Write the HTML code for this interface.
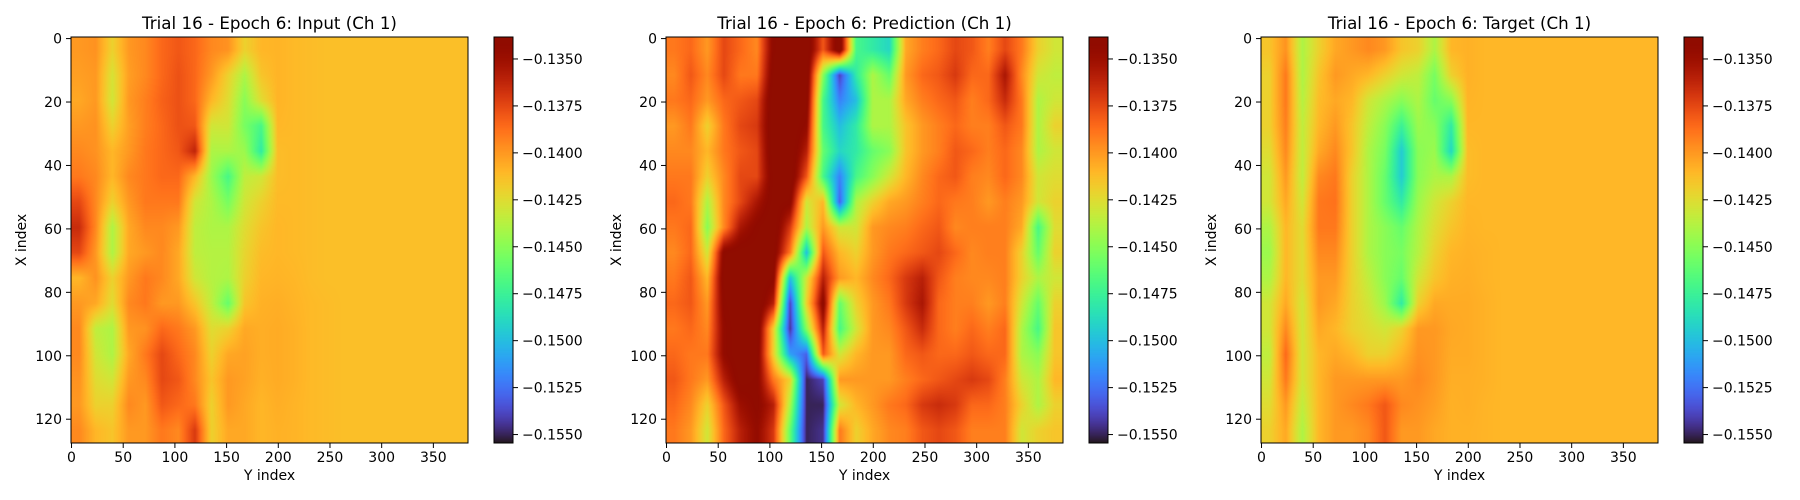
<!DOCTYPE html>
<html><head><meta charset="utf-8">
<style>
html,body{margin:0;padding:0;background:#fff;}
#root{position:relative;width:1800px;height:500px;overflow:hidden;font-family:"DejaVu Sans","Liberation Sans",sans-serif;}
canvas{position:absolute;}
svg{position:absolute;left:0;top:0;}
</style></head>
<body>
<div id="root">
<svg id="ov" width="1800" height="500"></svg>
</div>
<script>
// ---- data (values in units of -1e-4, e.g. 1412 => -0.1412) ----
const NROWS = 128, NCOLS = 384;
const vmin = -0.15545, vmax = -0.13383;
const xTicks = [0,50,100,150,200,250,300,350];
const yTicks = [0,20,40,60,80,100,120];
const cbTicks = [-0.1350,-0.1375,-0.1400,-0.1425,-0.1450,-0.1475,-0.1500,-0.1525,-0.1550];
const titles = ["Trial 16 - Epoch 6: Input (Ch 1)","Trial 16 - Epoch 6: Prediction (Ch 1)","Trial 16 - Epoch 6: Target (Ch 1)"];

const inputGrid = [
[1400,1398,1420,1400,1395,1385,1380,1385,1395,1398,1420,1410,1409,1411,1412,1413,1413,1413,1413,1413,1413,1413,1413,1413],
[1402,1400,1428,1402,1395,1385,1378,1385,1400,1420,1440,1415,1409,1411,1412,1413,1413,1413,1413,1413,1413,1413,1413,1413],
[1405,1400,1430,1400,1392,1383,1378,1385,1410,1425,1450,1425,1409,1411,1412,1413,1413,1413,1413,1413,1413,1413,1413,1413],
[1400,1398,1420,1402,1392,1385,1378,1380,1430,1430,1455,1470,1410,1411,1412,1413,1413,1413,1413,1413,1413,1413,1413,1413],
[1395,1398,1410,1400,1390,1385,1380,1362,1440,1440,1445,1480,1412,1411,1412,1413,1413,1413,1413,1413,1413,1413,1413,1413],
[1390,1395,1410,1395,1390,1385,1385,1410,1445,1470,1435,1430,1412,1411,1412,1413,1413,1413,1413,1413,1413,1413,1413,1413],
[1375,1395,1420,1400,1390,1390,1390,1430,1440,1455,1430,1420,1411,1411,1412,1413,1413,1413,1413,1413,1413,1413,1413,1413],
[1365,1395,1440,1405,1395,1395,1400,1435,1440,1440,1425,1415,1410,1411,1412,1413,1413,1413,1413,1413,1413,1413,1413,1413],
[1375,1400,1440,1405,1400,1395,1405,1435,1438,1438,1422,1412,1410,1411,1412,1413,1413,1413,1413,1413,1413,1413,1413,1413],
[1410,1398,1420,1400,1390,1395,1405,1430,1438,1440,1420,1410,1409,1410,1412,1413,1413,1413,1413,1413,1413,1413,1413,1413],
[1400,1405,1425,1395,1390,1400,1400,1415,1435,1460,1415,1408,1407,1409,1411,1412,1413,1413,1413,1413,1413,1413,1413,1413],
[1395,1435,1440,1400,1398,1385,1390,1400,1425,1420,1405,1407,1406,1408,1411,1412,1413,1413,1413,1413,1413,1413,1413,1413],
[1395,1430,1440,1405,1390,1375,1385,1395,1420,1405,1403,1407,1406,1408,1411,1412,1413,1413,1413,1413,1413,1413,1413,1413],
[1398,1425,1430,1400,1395,1375,1380,1395,1415,1400,1403,1408,1406,1408,1411,1412,1413,1413,1413,1413,1413,1413,1413,1413],
[1400,1420,1420,1395,1400,1380,1385,1390,1420,1400,1405,1410,1407,1409,1411,1412,1413,1413,1413,1413,1413,1413,1413,1413],
[1395,1410,1415,1400,1400,1390,1395,1370,1420,1405,1405,1410,1408,1409,1411,1412,1413,1413,1413,1413,1413,1413,1413,1413]
];
const predGrid = [
[1390,1385,1400,1375,1385,1395,1340,1330,1330,1380,1330,1470,1480,1490,1405,1392,1385,1375,1380,1392,1375,1390,1420,1430],
[1395,1380,1395,1375,1390,1390,1335,1330,1330,1450,1540,1480,1440,1460,1400,1385,1380,1370,1385,1385,1355,1395,1430,1435],
[1390,1385,1400,1385,1380,1375,1330,1330,1335,1470,1520,1500,1440,1440,1405,1392,1385,1380,1392,1385,1365,1390,1440,1430],
[1400,1390,1420,1390,1375,1370,1330,1330,1345,1470,1500,1480,1440,1440,1415,1400,1392,1385,1392,1392,1380,1390,1440,1420],
[1395,1395,1410,1390,1380,1375,1330,1330,1360,1460,1490,1480,1460,1450,1415,1400,1392,1380,1385,1392,1385,1395,1440,1430],
[1390,1390,1420,1395,1375,1375,1335,1330,1380,1470,1520,1470,1450,1430,1410,1395,1385,1380,1392,1395,1385,1395,1430,1425],
[1385,1390,1440,1395,1375,1355,1335,1340,1430,1410,1530,1440,1420,1405,1400,1392,1385,1390,1392,1400,1392,1400,1430,1420],
[1390,1385,1450,1395,1355,1340,1330,1370,1440,1400,1430,1430,1400,1395,1392,1385,1380,1395,1392,1392,1392,1405,1470,1425],
[1395,1385,1430,1340,1335,1335,1335,1390,1500,1380,1410,1420,1400,1390,1385,1380,1375,1385,1395,1392,1392,1420,1460,1420],
[1390,1380,1410,1335,1330,1330,1340,1500,1430,1360,1400,1410,1395,1385,1370,1360,1380,1392,1395,1395,1392,1420,1440,1430],
[1385,1380,1400,1340,1330,1330,1360,1540,1420,1340,1460,1420,1400,1390,1370,1355,1385,1392,1392,1400,1392,1430,1460,1420],
[1390,1385,1395,1345,1330,1330,1420,1545,1450,1360,1470,1430,1400,1395,1380,1365,1385,1392,1385,1392,1385,1440,1470,1415],
[1385,1390,1390,1345,1330,1335,1420,1510,1530,1380,1430,1410,1400,1400,1385,1380,1385,1385,1380,1385,1385,1440,1450,1415],
[1380,1390,1400,1360,1335,1340,1390,1420,1550,1540,1400,1400,1400,1400,1392,1385,1380,1375,1370,1375,1392,1430,1440,1410],
[1385,1395,1420,1380,1350,1340,1360,1440,1550,1550,1430,1410,1400,1390,1385,1370,1365,1370,1385,1385,1392,1420,1440,1420],
[1390,1400,1430,1385,1360,1345,1370,1460,1550,1545,1390,1420,1405,1395,1392,1380,1375,1380,1392,1392,1392,1430,1420,1415]
];
const targetGrid = [
[1415,1398,1440,1420,1405,1400,1395,1400,1415,1420,1440,1410,1408,1410,1410,1410,1410,1410,1410,1410,1410,1410,1410,1410],
[1420,1390,1440,1415,1400,1405,1410,1420,1430,1435,1455,1420,1408,1410,1410,1410,1410,1410,1410,1410,1410,1410,1410,1410],
[1420,1390,1438,1412,1405,1410,1430,1440,1450,1440,1460,1450,1409,1410,1410,1410,1410,1410,1410,1410,1410,1410,1410,1410],
[1420,1392,1435,1410,1400,1415,1435,1450,1475,1445,1450,1480,1410,1410,1410,1410,1410,1410,1410,1410,1410,1410,1410,1410],
[1425,1395,1435,1405,1395,1415,1440,1455,1495,1450,1445,1490,1412,1410,1410,1410,1410,1410,1410,1410,1410,1410,1410,1410],
[1430,1400,1435,1395,1390,1420,1440,1460,1495,1450,1440,1440,1412,1410,1410,1410,1410,1410,1410,1410,1410,1410,1410,1410],
[1430,1405,1430,1390,1388,1420,1440,1460,1480,1445,1430,1420,1410,1410,1410,1410,1410,1410,1410,1410,1410,1410,1410,1410],
[1440,1410,1425,1390,1390,1420,1440,1450,1460,1440,1425,1415,1409,1410,1410,1410,1410,1410,1410,1410,1410,1410,1410,1410],
[1445,1410,1425,1395,1395,1420,1440,1450,1455,1438,1420,1410,1408,1409,1410,1410,1410,1410,1410,1410,1410,1410,1410,1410],
[1440,1410,1425,1400,1400,1420,1435,1450,1460,1430,1415,1408,1407,1409,1410,1410,1410,1410,1410,1410,1410,1410,1410,1410],
[1430,1405,1430,1400,1405,1420,1430,1445,1480,1420,1405,1406,1406,1408,1410,1410,1410,1410,1410,1410,1410,1410,1410,1410],
[1430,1395,1430,1405,1410,1420,1425,1430,1420,1400,1400,1405,1406,1408,1410,1410,1410,1410,1410,1410,1410,1410,1410,1410],
[1435,1385,1430,1410,1405,1410,1420,1420,1410,1398,1400,1406,1406,1408,1410,1410,1410,1410,1410,1410,1410,1410,1410,1410],
[1430,1390,1430,1410,1400,1400,1400,1400,1400,1395,1400,1407,1407,1408,1410,1410,1410,1410,1410,1410,1410,1410,1410,1410],
[1425,1400,1435,1410,1400,1395,1390,1380,1395,1398,1402,1408,1407,1409,1410,1410,1410,1410,1410,1410,1410,1410,1410,1410],
[1420,1405,1440,1410,1400,1400,1395,1380,1400,1400,1405,1408,1408,1409,1410,1410,1410,1410,1410,1410,1410,1410,1410,1410]
];
const grids = [inputGrid, predGrid, targetGrid];

// ---- layout ----
const AX_Y = 37, AX_H = 406, AX_W = 397, CB_W = 19;
const axLeft = [71, 666, 1261];
const cbLeft = [494, 1089, 1684];
const NS = "http://www.w3.org/2000/svg";
const root = document.getElementById('root');
const ov = document.getElementById('ov');

function turbo(x){
  x = Math.max(0, Math.min(1, x));
  const r = 0.13572138 + x*(4.61539260 + x*(-42.66032258 + x*(132.13108234 + x*(-152.94239396 + x*59.28637943))));
  const g = 0.09140261 + x*(2.19418839 + x*(4.84296658 + x*(-14.18503333 + x*(4.27729857 + x*2.82956604))));
  const b = 0.10667330 + x*(12.64194608 + x*(-60.58204836 + x*(110.36276771 + x*(-89.90310912 + x*27.34824973))));
  const c = v => Math.max(0, Math.min(255, Math.round(v*255)));
  return [c(r), c(g), c(b)];
}
function norm(v){ return (v - vmin)/(vmax - vmin); }
function xScale(i, col){ return axLeft[i] + (col + 0.5)/NCOLS*AX_W; }
function yScale(row){ return AX_Y + (row + 0.5)/NROWS*AX_H; }
function cbScale(v){ return AX_Y + (vmax - v)/(vmax - vmin)*AX_H; }

function svgEl(tag, attrs, parent){
  const e = document.createElementNS(NS, tag);
  for (const k in attrs) e.setAttribute(k, attrs[k]);
  (parent || ov).appendChild(e);
  return e;
}

function drawHeatmap(i){
  const grid = grids[i];
  const gr = grid.length, gc = grid[0].length;
  const cv = document.createElement('canvas');
  
  
  cv.width = AX_W; cv.height = AX_H;
  cv.style.left = axLeft[i] + 'px'; cv.style.top = AX_Y + 'px';
  root.insertBefore(cv, ov);
  const ctx = cv.getContext('2d');
  const img = ctx.createImageData(AX_W, AX_H);
  for (let py = 0; py < AX_H; py++){
    const fy = Math.max(0, Math.min(gr - 1, (py + 0.5)/AX_H*gr - 0.5));
    const y0 = Math.floor(fy), y1 = Math.min(gr - 1, y0 + 1), ty = fy - y0;
    for (let px = 0; px < AX_W; px++){
      const fx = Math.max(0, Math.min(gc - 1, (px + 0.5)/AX_W*gc - 0.5));
      const x0 = Math.floor(fx), x1 = Math.min(gc - 1, x0 + 1), tx = fx - x0;
      const v = (grid[y0][x0]*(1-tx) + grid[y0][x1]*tx)*(1-ty) + (grid[y1][x0]*(1-tx) + grid[y1][x1]*tx)*ty;
      const c = turbo(norm(-v/10000));
      const k = (py*AX_W + px)*4;
      img.data[k] = c[0]; img.data[k+1] = c[1]; img.data[k+2] = c[2]; img.data[k+3] = 255;
    }
  }
  ctx.putImageData(img, 0, 0);
}

function drawColorbar(i){
  const cv = document.createElement('canvas');
  
  
  cv.width = CB_W; cv.height = AX_H;
  cv.style.left = cbLeft[i] + 'px'; cv.style.top = AX_Y + 'px';
  root.insertBefore(cv, ov);
  const ctx = cv.getContext('2d');
  for (let py = 0; py < AX_H; py++){
    const c = turbo(1 - (py + 0.5)/AX_H);
    ctx.fillStyle = 'rgb(' + c.join(',') + ')';
    ctx.fillRect(0, py, CB_W, 1);
  }
  const g = svgEl('g', {});
  
  
  const fr = svgEl('rect', {x: cbLeft[i], y: AX_Y, width: CB_W, height: AX_H, fill: 'none', stroke: '#000', 'stroke-width': 1}, g);
  
  
  cbTicks.forEach(v => {
    const y = cbScale(v);
    const t = svgEl('line', {x1: cbLeft[i] + CB_W, x2: cbLeft[i] + CB_W + 5, y1: y, y2: y, stroke: '#000', 'stroke-width': 1}, g);
    
    
    const l = svgEl('text', {x: cbLeft[i] + CB_W + 9, y: y + 5, 'font-size': 14, fill: '#000'}, g);
    
    
    l.textContent = '\u2212' + Math.abs(v).toFixed(4);
  });
}

function drawAxes(i){
  const L = axLeft[i], B = AX_Y + AX_H;
  const g = svgEl('g', {});
  
  
  const fr = svgEl('rect', {x: L, y: AX_Y, width: AX_W, height: AX_H, fill: 'none', stroke: '#000', 'stroke-width': 1}, g);
  
  
  xTicks.forEach(v => {
    const x = xScale(i, v);
    const t = svgEl('line', {x1: x, x2: x, y1: B, y2: B + 5, stroke: '#000', 'stroke-width': 1}, g);
    
    
    const l = svgEl('text', {x: x, y: B + 19, 'font-size': 14, 'text-anchor': 'middle', fill: '#000'}, g);
    
    
    l.textContent = v;
  });
  yTicks.forEach(v => {
    const y = yScale(v);
    const t = svgEl('line', {x1: L - 5, x2: L, y1: y, y2: y, stroke: '#000', 'stroke-width': 1}, g);
    
    
    const l = svgEl('text', {x: L - 9, y: y + 5, 'font-size': 14, 'text-anchor': 'end', fill: '#000'}, g);
    
    
    l.textContent = v;
  });
  const xt = svgEl('text', {x: L + AX_W/2, y: B + 37, 'font-size': 14, 'text-anchor': 'middle', fill: '#000'}, g);
  
  
  xt.textContent = 'Y index';
  const yx = L - 45, yy = AX_Y + AX_H/2;
  const yt = svgEl('text', {x: yx, y: yy, 'font-size': 14, 'text-anchor': 'middle', fill: '#000', transform: 'rotate(-90 ' + yx + ' ' + yy + ')'}, g);
  
  
  yt.textContent = 'X index';
  const tt = svgEl('text', {x: L + AX_W/2, y: 29, 'font-size': 16.7, 'text-anchor': 'middle', fill: '#000'}, g);
  
  
  tt.textContent = titles[i];
}

for (let i = 0; i < 3; i++){ drawHeatmap(i); drawColorbar(i); drawAxes(i); }
</script>
</body></html>
